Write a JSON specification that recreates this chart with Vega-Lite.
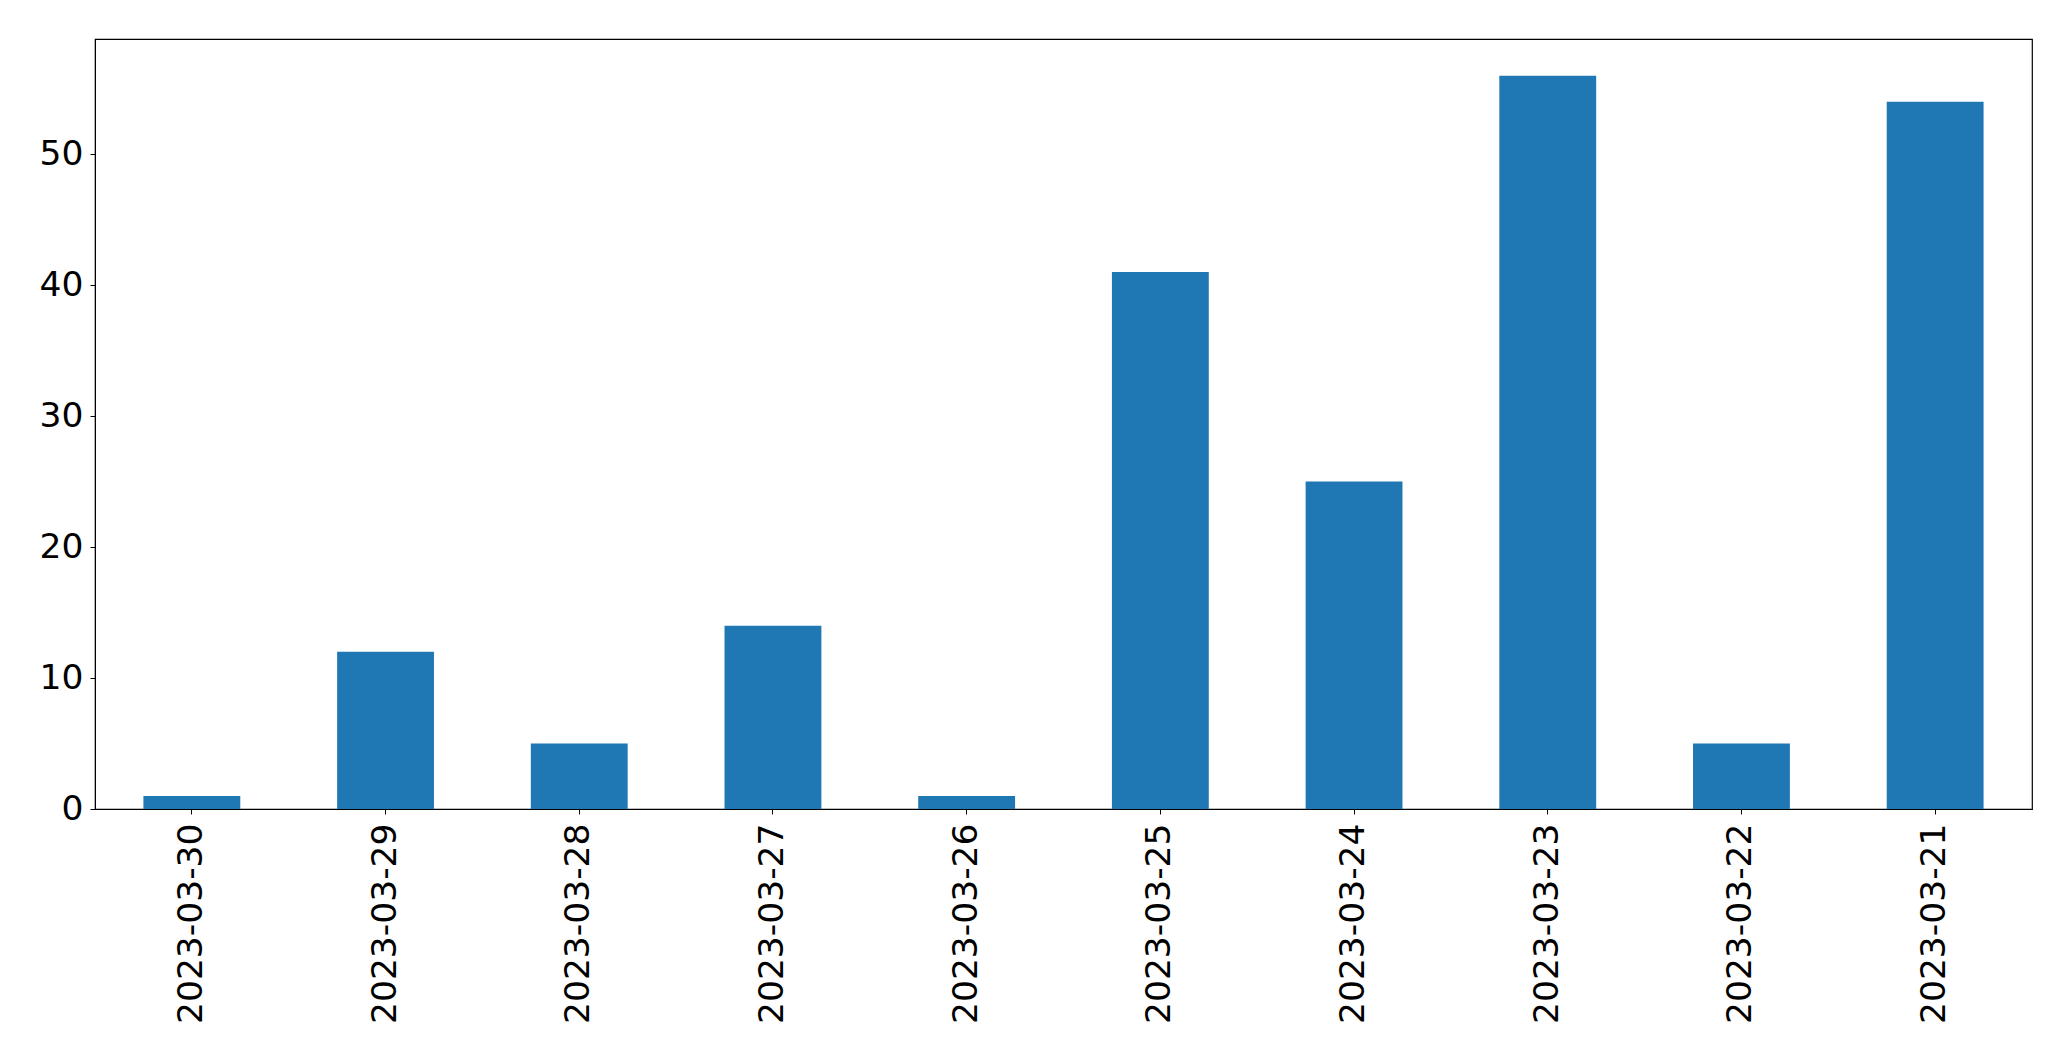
{
  "$schema": "https://vega.github.io/schema/vega-lite/v6.json",
  "autosize": "none",
  "width": 1937,
  "height": 770,
  "padding": {"left": 95, "top": 39, "right": 39, "bottom": 252},
  "background": "white",
  "config": {
    "view": {"stroke": "black", "strokeWidth": 1.2},
    "axis": {
      "labelFont": "DejaVu Sans",
      "labelFontSize": 34.5,
      "labelColor": "black",
      "labelLimit": 0,
      "domainColor": "black",
      "tickColor": "black",
      "tickSize": 5,
      "grid": false,
      "title": null
    }
  },
  "data": {
    "values": [
      {"date": "2023-03-30", "count": 1},
      {"date": "2023-03-29", "count": 12},
      {"date": "2023-03-28", "count": 5},
      {"date": "2023-03-27", "count": 14},
      {"date": "2023-03-26", "count": 1},
      {"date": "2023-03-25", "count": 41},
      {"date": "2023-03-24", "count": 25},
      {"date": "2023-03-23", "count": 56},
      {"date": "2023-03-22", "count": 5},
      {"date": "2023-03-21", "count": 54}
    ]
  },
  "mark": {"type": "bar", "color": "#1f77b4"},
  "encoding": {
    "x": {
      "field": "date",
      "type": "nominal",
      "sort": null,
      "scale": {"paddingInner": 0.5, "paddingOuter": 0.25},
      "axis": {"labelAngle": 270, "labelAlign": "right", "labelBaseline": "middle", "labelPadding": 9, "labelOverlap": false, "title": null}
    },
    "y": {
      "field": "count",
      "type": "quantitative",
      "scale": {"domain": [0, 58.8], "nice": false},
      "axis": {"values": [0, 10, 20, 30, 40, 50], "labelPadding": 7, "title": null}
    }
  }
}
